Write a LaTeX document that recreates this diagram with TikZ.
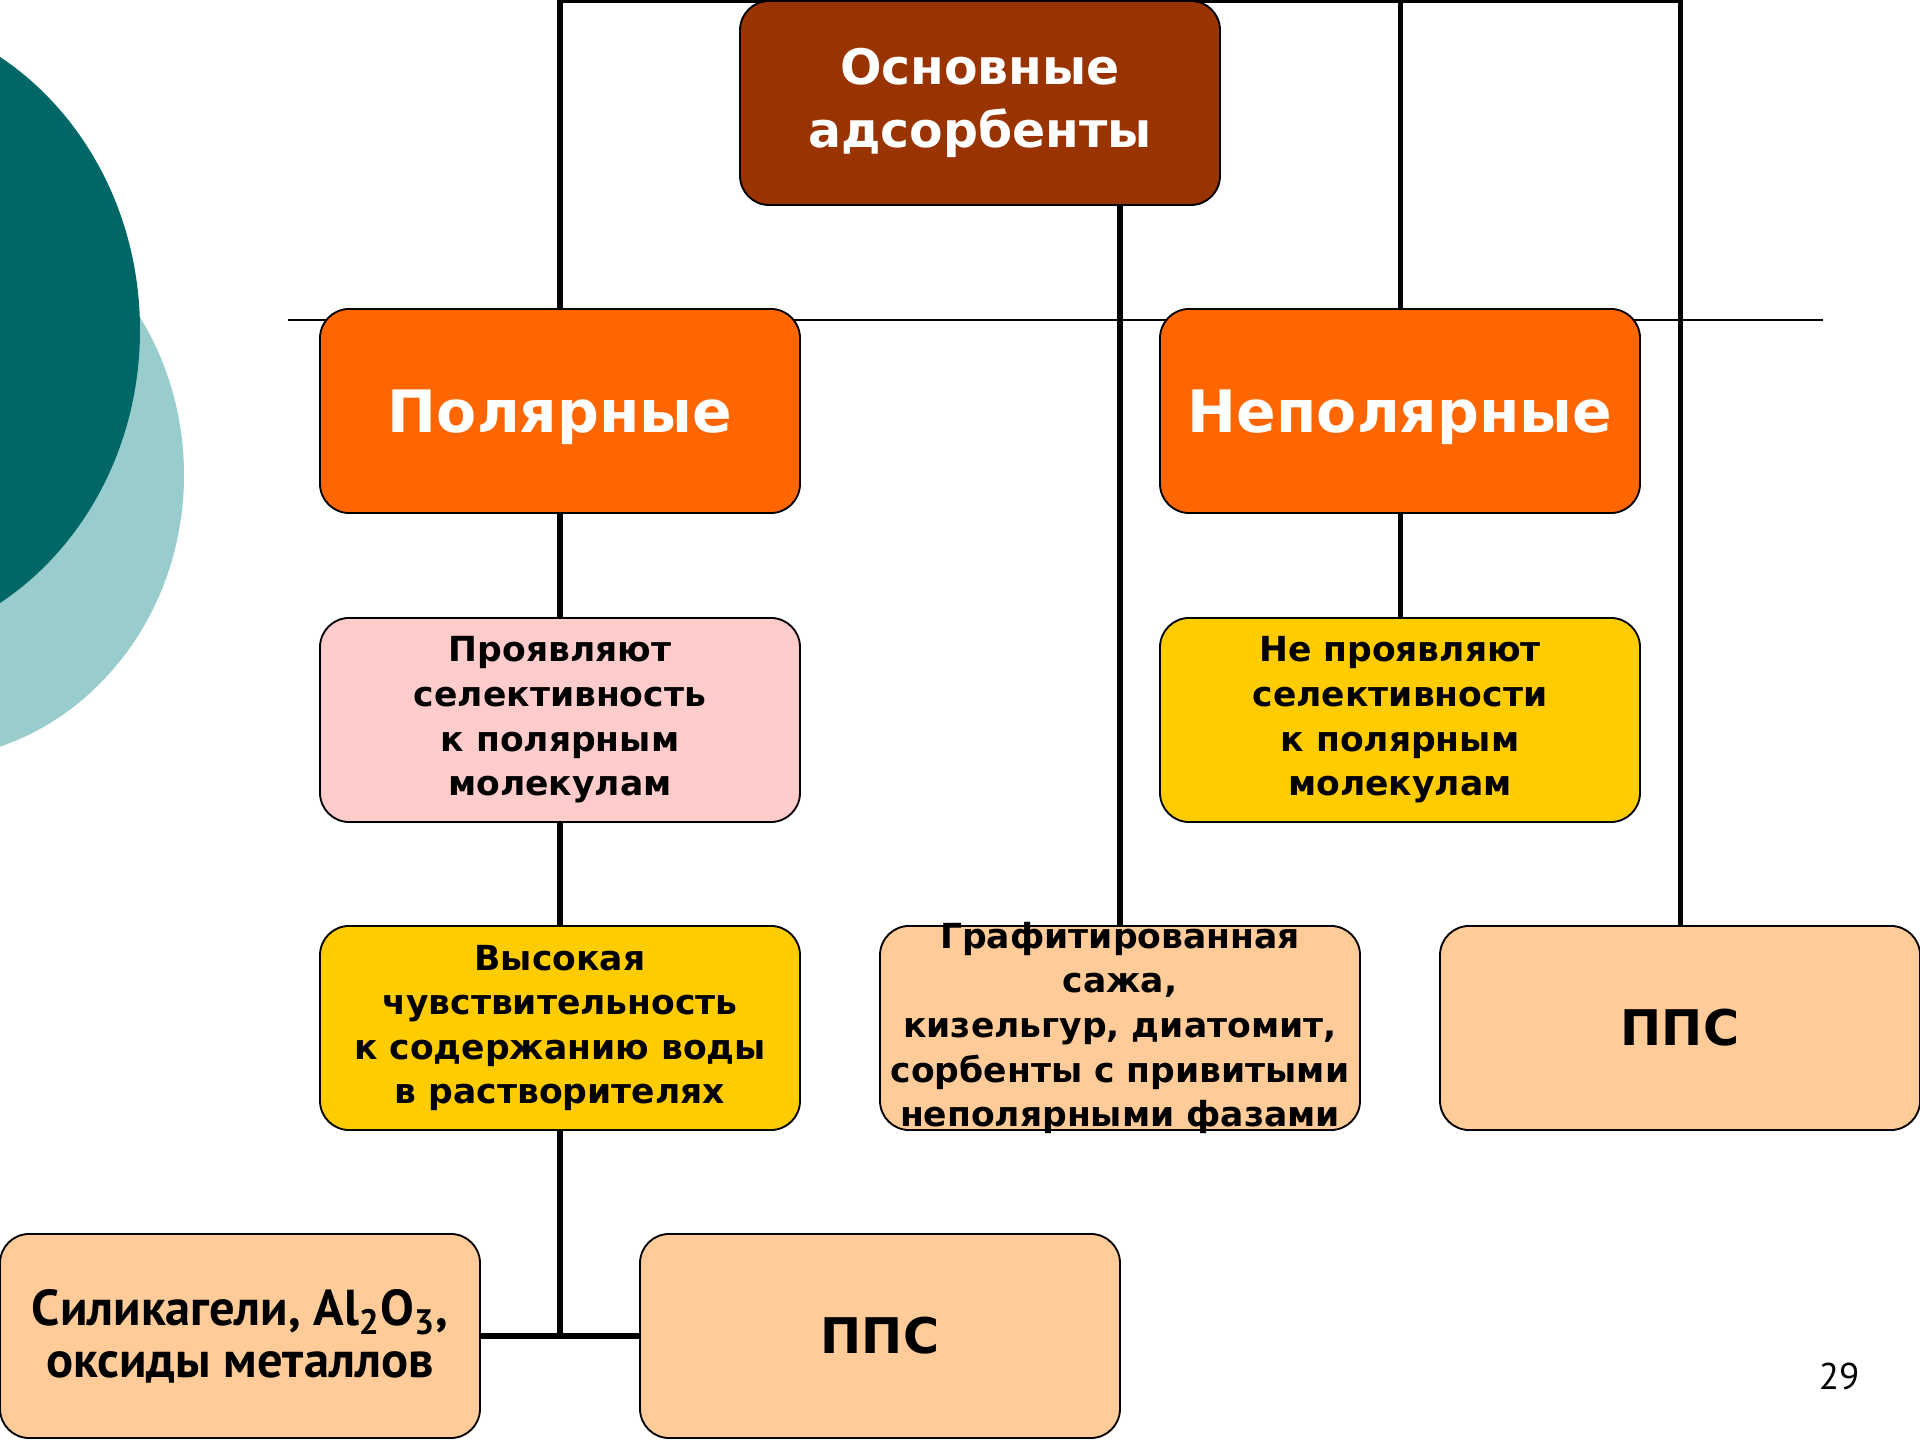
\documentclass[tikz,border=0pt]{standalone}
\usepackage{fontspec}
\setmainfont{DejaVu Sans}
\newfontfamily\tahoma{PT Sans}
\usetikzlibrary{positioning, backgrounds}
\definecolor{brick}{RGB}{153, 51, 0}
\definecolor{orng}{RGB}{255, 102, 0}
\definecolor{rose}{RGB}{255, 204, 204}
\definecolor{gold}{RGB}{255, 204, 0}
\definecolor{peach}{RGB}{255, 204, 153}
\definecolor{tealdark}{RGB}{0, 102, 102}
\definecolor{teallight}{RGB}{153, 204, 204}

\begin{document}
\begin{tikzpicture}[scale=1.32292,
  blk/.style={draw=black, line width=0.7pt, rounded corners=11pt, minimum width=6.35cm, minimum height=2.70cm, align=center, inner sep=0pt},
  txt/.style={font=\fontsize{13}{16.8}\selectfont\bfseries},
  big/.style={text=white, text depth=0pt, font=\fontsize{22}{26}\selectfont\bfseries},
  pps/.style={font=\fontsize{18.5}{22}\selectfont\bfseries},
  ln/.style={line width=2.1pt}]
  \useasboundingbox (0,0) rectangle (19.2,14.4);

  % блоки
  \node[blk, fill=brick, text=white, font=\fontsize{18.4}{23.7}\selectfont\bfseries] (osn) at (9.80,13.37) {Основные\\адсорбенты};
  \node[blk, fill=orng, big] (pol) at (5.60,10.29) {Полярные};
  \node[blk, fill=orng, big] (nepol) at (14.00,10.29) {Неполярные};
  \node[blk, fill=rose, txt] (selp) at (5.60,7.20) {Проявляют\\селективность\\к полярным\\молекулам};
  \node[blk, fill=gold, txt] (selnp) at (14.00,7.20) {Не проявляют\\селективности\\к полярным\\молекулам};
  \node[blk, fill=gold, txt] (voda) at (5.60,4.12) {Высокая\\чувствительность\\к содержанию воды\\в растворителях};
  \node[blk, fill=peach, txt, inner ysep=-4pt] (graf) at (11.20,4.12) {Графитированная\\сажа,\\кизельгур, диатомит,\\сорбенты с привитыми\\неполярными фазами};
  \node[blk, fill=peach, pps] (ppsr) at (16.80,4.12) {ППС};
  \node[blk, fill=peach, font=\tahoma\fontsize{19}{19.5}\selectfont\bfseries] (silika) at (2.40,1.04) {Силикагели, Al\textsubscript{2}O\textsubscript{3},\\оксиды металлов};
  \node[blk, fill=peach, pps] (ppsb) at (8.80,1.04) {ППС};
  \node[font=\tahoma\fontsize{14}{16}\selectfont] (nomer) at (18.39,0.64) {29};

  \begin{scope}[on background layer]
    % фон слайда
    \begin{scope}
      \clip (0,0) rectangle (19.2,14.4);
      \fill[teallight] (-0.80,9.65) ellipse (2.64 and 2.85);
      \fill[tealdark] (-1.50,11.10) ellipse (2.90 and 3.19);
    \end{scope}
    \draw[line width=0.9pt] (2.88,11.20) -- (18.23,11.20);

    % связи
    \coordinate (verh) at (16.80,14.39);
    \draw[ln] (pol.north) |- (verh) -- (ppsr.north);
    \draw[ln] (nepol.north) -- (nepol.north |- verh);
    \draw[ln] (graf.north) -- (graf.north |- osn.south);
    \draw[ln] (pol.south) -- (selp.north);
    \draw[ln] (selp.south) -- (voda.north);
    \draw[ln] (nepol.south) -- (selnp.north);
    \draw[ln] (voda.south) -- (voda.south |- silika.east);
    \draw[ln] (silika.east) -- (ppsb.west);
  \end{scope}
\end{tikzpicture}
\end{document}
